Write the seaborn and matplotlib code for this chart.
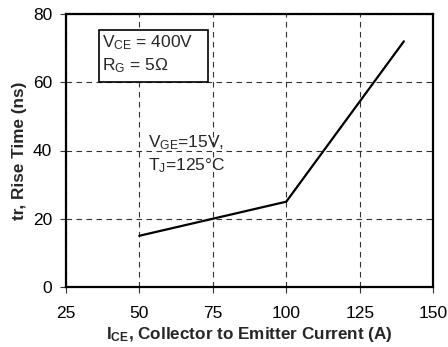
import matplotlib
matplotlib.use("Agg")
import matplotlib.pyplot as plt
import seaborn as sns
import pandas as pd
from matplotlib.patches import Rectangle

ice = [50, 100, 140]
tr = [15, 25, 72]
xticks = [25, 50, 75, 100, 125, 150]
yticks = [0, 20, 40, 60, 80]

sns.set_theme(style="white")
plt.rcParams['font.family'] = ['Liberation Sans', 'DejaVu Sans']
plt.rcParams['mathtext.fontset'] = 'custom'
plt.rcParams['mathtext.rm'] = 'Liberation Sans'
plt.rcParams['mathtext.it'] = 'Liberation Sans'
plt.rcParams['mathtext.bf'] = 'Liberation Sans:bold'

FS = 12.5

fig = plt.figure(figsize=(4.48, 3.47), dpi=100)
ax = fig.add_axes([65.7/448, 1 - 287/347, (433.3-65.7)/448, (287-14)/347])

df = pd.DataFrame({"ice": ice, "tr": tr})
sns.lineplot(data=df, x="ice", y="tr", ax=ax, color="black", linewidth=1.6, zorder=4)

ax.set_xlim(25, 150)
ax.set_ylim(0, 80)
ax.set_xticks(xticks)
ax.set_yticks(yticks)
ax.set_axisbelow(True)
ax.grid(True, color="#333333", linestyle=(0, (5, 4)), linewidth=0.8)
for s in ax.spines.values():
    s.set_color("black")
    s.set_linewidth(1.6)
ax.tick_params(axis="both", direction="out", length=4.2, width=0.8, color="#333333",
               labelsize=FS, labelcolor="black", bottom=True, left=True)
ax.tick_params(axis="x", pad=9.5)
ax.tick_params(axis="y", pad=5.5)

ax.set_xlabel(r"$\mathbf{I_{CE}}$, Collector to Emitter Current (A)",
              fontsize=12.3, fontweight="bold", labelpad=3)
ax.set_ylabel("tr, Rise Time (ns)", fontsize=12.3, fontweight="bold", labelpad=4)

ax.add_patch(Rectangle((36.4, 60), 36.9, 15.3, facecolor="white", edgecolor="black",
                       linewidth=1.2, zorder=3))
ax.text(37.3, 71.5, r"$\mathrm{V_{CE}}$ = 400V", fontsize=FS, va="center", ha="left", zorder=5)
ax.text(37.3, 65.0, r"$\mathrm{R_{G}}$ = 5Ω", fontsize=FS, va="center", ha="left", zorder=5)

ax.text(53, 42.2, r"$\mathrm{V_{GE}}$=15V,", fontsize=FS, va="center", ha="left", zorder=5)
ax.text(53, 35.7, r"$\mathrm{T_{J}}$=125°C", fontsize=FS, va="center", ha="left", zorder=5)

fig.savefig("out.png", dpi=100)
